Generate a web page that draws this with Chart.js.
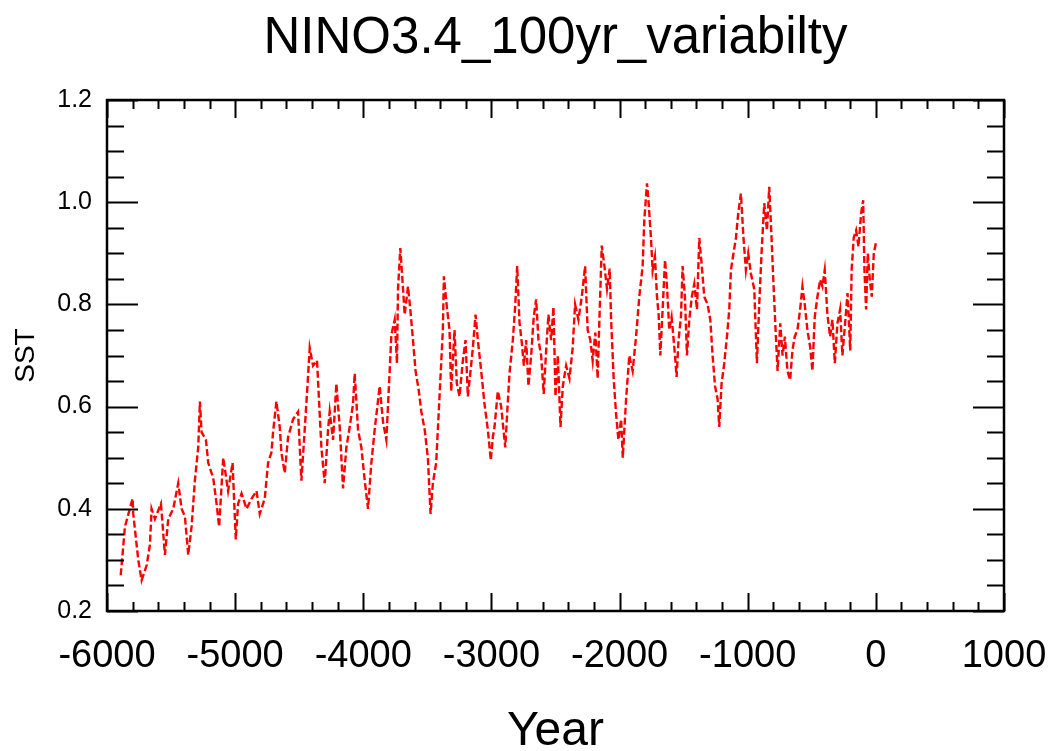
<!DOCTYPE html>
<html>
<head>
<meta charset="utf-8">
<script src="https://cdn.jsdelivr.net/npm/chart.js@4.4.1/dist/chart.umd.min.js"></script>
<style>
  html, body { margin: 0; padding: 0; background: #ffffff; }
  #c { display: block; }
</style>
</head>
<body>
<canvas id="c" width="1055" height="751"></canvas>
<script>
// ---- data ----
const years = [
  -5893,-5860,-5800,-5795,-5756,-5730,-5690,-5665,-5652,-5626,-5579,-5548,-5522,-5483,-5444,-5418,-5392,-5366,-5340,-5314,
  -5288,-5275,-5262,-5228,-5210,-5171,-5145,-5125,-5093,-5055,-5020,-4995,-4977,-4950,-4911,-4872,-4833,-4808,-4769,-4743,
  -4717,-4704,-4678,-4652,-4639,-4613,-4587,-4548,-4509,-4490,-4483,-4457,-4431,-4418,-4392,-4361,-4345,-4327,-4301,-4275,
  -4262,-4236,-4210,-4184,-4158,-4132,-4106,-4080,-4067,-4041,-4015,-3989,-3963,-3937,-3911,-3872,-3846,-3820,-3794,-3781,
  -3755,-3737,-3729,-3711,-3695,-3677,-3651,-3633,-3612,-3592,-3566,-3547,-3521,-3496,-3475,-3457,-3431,-3405,-3379,-3371,
  -3348,-3327,-3314,-3288,-3270,-3249,-3223,-3202,-3184,-3163,-3145,-3124,-3106,-3080,-3054,-3028,-3005,-2989,-2976,-2950,
  -2924,-2892,-2872,-2859,-2833,-2815,-2799,-2781,-2763,-2747,-2729,-2711,-2690,-2670,-2651,-2633,-2612,-2592,-2573,-2555,
  -2534,-2516,-2500,-2482,-2461,-2443,-2417,-2391,-2366,-2347,-2321,-2295,-2269,-2249,-2228,-2210,-2189,-2171,-2158,-2139,
  -2118,-2098,-2077,-2066,-2046,-2027,-2009,-1988,-1975,-1949,-1924,-1898,-1872,-1846,-1820,-1807,-1786,-1773,-1755,-1742,
  -1724,-1708,-1695,-1682,-1664,-1645,-1630,-1612,-1594,-1573,-1555,-1540,-1521,-1508,-1490,-1474,-1456,-1436,-1417,-1396,
  -1378,-1360,-1339,-1313,-1292,-1274,-1255,-1235,-1222,-1204,-1183,-1162,-1144,-1131,-1111,-1092,-1074,-1053,-1033,-1014,
  -996,-975,-949,-928,-910,-892,-871,-850,-832,-814,-798,-780,-767,-746,-728,-710,-690,-669,-651,-633,
  -612,-591,-573,-555,-534,-513,-495,-477,-456,-435,-417,-399,-378,-357,-339,-320,-300,-279,-261,-242,
  -221,-200,-189,-173,-154,-136,-115,-99,-89,-76,-63,-47,-32,-16,0
];
const sst = [
  0.27,0.365,0.42,0.39,0.30,0.26,0.29,0.33,0.40,0.38,0.41,0.31,0.38,0.40,0.45,0.40,0.385,0.31,0.365,0.456,
  0.52,0.61,0.55,0.535,0.49,0.46,0.41,0.365,0.50,0.435,0.49,0.34,0.41,0.43,0.40,0.42,0.435,0.39,0.42,0.49,
  0.51,0.55,0.61,0.56,0.51,0.47,0.54,0.575,0.59,0.49,0.455,0.555,0.66,0.715,0.68,0.69,0.61,0.52,0.45,0.555,
  0.59,0.535,0.645,0.56,0.44,0.52,0.56,0.605,0.665,0.555,0.52,0.456,0.40,0.49,0.555,0.64,0.57,0.535,0.67,0.74,
  0.77,0.685,0.83,0.91,0.85,0.78,0.835,0.79,0.73,0.67,0.63,0.59,0.555,0.50,0.39,0.45,0.49,0.62,0.75,0.855,
  0.795,0.75,0.63,0.75,0.645,0.62,0.69,0.73,0.62,0.67,0.715,0.78,0.73,0.67,0.605,0.555,0.495,0.54,0.56,0.63,
  0.60,0.52,0.61,0.665,0.73,0.795,0.875,0.765,0.725,0.68,0.73,0.64,0.70,0.775,0.81,0.73,0.70,0.625,0.71,0.78,
  0.73,0.795,0.62,0.70,0.56,0.64,0.68,0.655,0.715,0.80,0.77,0.815,0.875,0.75,0.73,0.69,0.745,0.655,0.765,0.915,
  0.875,0.83,0.87,0.77,0.655,0.585,0.535,0.575,0.50,0.615,0.70,0.67,0.735,0.815,0.875,0.965,1.037,0.998,0.93,0.867,
  0.893,0.815,0.78,0.70,0.79,0.887,0.835,0.75,0.775,0.717,0.658,0.73,0.775,0.875,0.815,0.70,0.77,0.815,0.84,0.79,
  0.93,0.88,0.815,0.80,0.77,0.70,0.64,0.615,0.56,0.645,0.685,0.737,0.79,0.867,0.90,0.93,0.978,1.017,0.93,0.867,
  0.90,0.86,0.83,0.685,0.80,0.90,0.998,0.945,1.03,0.93,0.835,0.737,0.67,0.763,0.70,0.737,0.67,0.652,0.71,0.737,
  0.75,0.79,0.835,0.80,0.75,0.717,0.67,0.775,0.815,0.848,0.835,0.867,0.78,0.737,0.77,0.685,0.763,0.79,0.70,0.757,
  0.822,0.71,0.867,0.93,0.945,0.913,0.978,1.004,0.867,0.79,0.90,0.848,0.815,0.90,0.92
];
const xTickValues = [-6000,-5000,-4000,-3000,-2000,-1000,0,1000];
const yTickValues = [0.2,0.4,0.6,0.8,1.0,1.2];
const titleText = 'NINO3.4_100yr_variabilty';
const xTitle = 'Year';
const yTitle = 'SST';

const FONT = '"Liberation Sans", Arial, Helvetica, sans-serif';

// title centred over the plot + inward tick marks + frame, placed via the chart's scales
const frameTicks = {
  id: 'frameTicks',
  afterDatasetsDraw(chart) {
    const {ctx, chartArea: a, scales: {x, y}} = chart;
    ctx.save();
    ctx.strokeStyle = '#000';
    ctx.lineCap = 'butt';
    ctx.lineWidth = 2;
    for (let v = x.min; v <= x.max + 1e-6; v += 200) {
      const px = Math.round(x.getPixelForValue(v)) + 0.5;
      const major = Math.abs(v % 1000) < 1e-6;
      const len = major ? 18 : 9;
      ctx.beginPath();
      ctx.moveTo(px, a.bottom); ctx.lineTo(px, a.bottom - len);
      ctx.moveTo(px, a.top); ctx.lineTo(px, a.top + len);
      ctx.stroke();
    }
    for (let i = 0; i <= 20; i++) {
      const v = y.min + i * 0.05;
      const py = Math.round(y.getPixelForValue(v)) + 0.5;
      const major = i % 4 === 0;
      const len = major ? 31 : 17;
      ctx.beginPath();
      ctx.moveTo(a.left, py); ctx.lineTo(a.left + len, py);
      ctx.moveTo(a.right, py); ctx.lineTo(a.right - len, py);
      ctx.stroke();
    }
    ctx.lineWidth = 2.5;
    ctx.strokeRect(a.left, a.top, a.right - a.left, a.bottom - a.top);

    ctx.fillStyle = '#000';
    ctx.font = '51px ' + FONT;
    ctx.textAlign = 'center';
    ctx.textBaseline = 'alphabetic';
    ctx.fillText(titleText, (a.left + a.right) / 2, 53);
    ctx.restore();
  }
};

new Chart(document.getElementById('c'), {
  type: 'line',
  data: {
    datasets: [{
      data: years.map((yr, i) => ({x: yr, y: sst[i]})),
      borderColor: '#ff0000',
      borderWidth: 2.4,
      borderDash: [7, 3],
      pointRadius: 0,
      fill: false,
      tension: 0
    }]
  },
  options: {
    responsive: false,
    animation: false,
    devicePixelRatio: 1,
    layout: { padding: { left: 0, right: 51, top: 100, bottom: 0 } },
    plugins: {
      legend: { display: false },
      tooltip: { enabled: false },
      title: { display: false }
    },
    scales: {
      x: {
        type: 'linear',
        min: -6000, max: 1000,
        afterBuildTicks: s => { s.ticks = xTickValues.map(v => ({value: v})); },
        afterFit: s => { s.height = 140; s.paddingLeft = 0; s.paddingRight = 0; },
        grid: { display: false, drawTicks: false },
        border: { display: false },
        ticks: {
          color: '#000',
          font: { family: FONT, size: 38 },
          padding: 23,
          maxRotation: 0,
          autoSkip: false,
          callback: v => String(v)
        },
        title: {
          display: true,
          text: xTitle,
          color: '#000',
          font: { family: FONT, size: 48, lineHeight: 0.8 },
          padding: { top: 0, bottom: 0 }
        }
      },
      y: {
        type: 'linear',
        min: 0.2, max: 1.2,
        afterBuildTicks: s => { s.ticks = yTickValues.map(v => ({value: v})); },
        afterFit: s => { s.width = 107; s.paddingTop = 0; s.paddingBottom = 0; },
        grid: { display: false, drawTicks: false },
        border: { display: false },
        ticks: {
          color: '#000',
          font: { family: FONT, size: 25 },
          padding: 15,
          autoSkip: false,
          callback: v => Number(v).toFixed(1)
        },
        title: {
          display: true,
          text: yTitle,
          color: '#000',
          font: { family: FONT, size: 28, lineHeight: 1.2 },
          padding: { top: 9, bottom: 0 }
        }
      }
    }
  },
  plugins: [frameTicks]
});
</script>
</body>
</html>
